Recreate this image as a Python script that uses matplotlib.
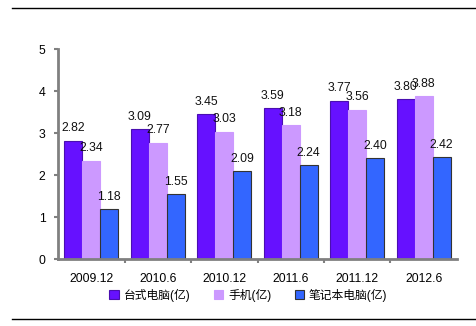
import matplotlib
matplotlib.use("Agg")
import matplotlib.pyplot as plt
import numpy as np
from matplotlib.lines import Line2D

plt.rcParams['font.family'] = ['Liberation Sans', 'Noto Sans CJK SC', 'DejaVu Sans']

# --- Data ---
periods = ["2009.12", "2010.6", "2010.12", "2011.6", "2011.12", "2012.6"]
desktop = [2.82, 3.09, 3.45, 3.59, 3.77, 3.80]
phone = [2.34, 2.77, 3.03, 3.18, 3.56, 3.88]
laptop = [1.18, 1.55, 2.09, 2.24, 2.40, 2.42]
series_names = ["台式电脑(亿)", "手机(亿)", "笔记本电脑(亿)"]

colors = ["#6611FF", "#CC99FF", "#3366FF"]
edges = ["#4A0FB0", "#CC99FF", "#333333"]

fig = plt.figure(figsize=(4.76, 3.26), dpi=100)
ax = fig.add_axes([0.122, 0.2055, 0.838, 0.644])

x = np.arange(len(periods))
w = 0.27
for i, (vals, c, ec) in enumerate(zip([desktop, phone, laptop], colors, edges)):
    pos = x + (i - 1) * w
    ax.bar(pos, vals, w, color=c, edgecolor=ec, linewidth=0.8, label=series_names[i], zorder=2)
    for px, v in zip(pos, vals):
        ax.text(px, v + 0.15, f"{v:.2f}", ha="center", va="bottom", fontsize=8.8, color="#111111")

ax.set_xlim(-0.5, len(periods) - 0.5)
ax.set_ylim(0, 5)
ax.set_yticks(range(6))
ax.set_xticks(x)
ax.set_xticklabels(periods, fontsize=8.8)
ax.set_xticks(np.arange(0.5, len(periods) - 0.5, 1), minor=True)
ax.tick_params(axis="x", which="major", length=0, pad=10)
ax.tick_params(axis="x", which="minor", length=3, width=1.5, color="#808080", direction="out")
ax.tick_params(axis="y", length=3, width=1.5, color="#808080", labelsize=8.8, pad=6)

for s in ["top", "right"]:
    ax.spines[s].set_visible(False)
for s in ["left", "bottom"]:
    ax.spines[s].set_color("#808080")
    ax.spines[s].set_linewidth(2)

handles, labels = ax.get_legend_handles_labels()
fig.legend(handles, labels, loc="center", bbox_to_anchor=(0.522, 1 - 295 / 326), ncol=3,
           frameon=False, fontsize=8.5, handlelength=0.8, handleheight=0.8,
           handletextpad=0.4, columnspacing=2.0)

# horizontal rules at top and bottom
fig.add_artist(Line2D([12 / 476, 1], [1 - 8 / 326] * 2, color="black", lw=1))
fig.add_artist(Line2D([12 / 476, 1], [1 - 319 / 326] * 2, color="black", lw=1))

fig.savefig("out.png", dpi=100)
